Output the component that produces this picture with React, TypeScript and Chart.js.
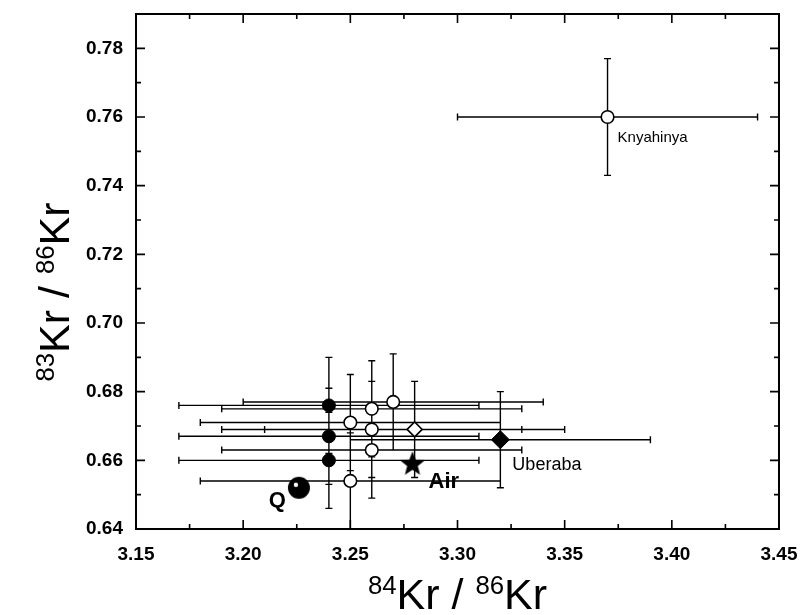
import React, { useEffect, useRef } from 'react';
import { Chart, registerables } from 'chart.js';

Chart.register(...registerables);

// ---- axis ticks ----
const xTickValues = [3.15, 3.2, 3.25, 3.3, 3.35, 3.4, 3.45];
const yTickValues = [0.64, 0.66, 0.68, 0.7, 0.72, 0.74, 0.76, 0.78];
const xMin = 3.15, xMax = 3.45, yMin = 0.64, yMax = 0.79;

// ---- data ----
// filled circles
const filledX = [3.24, 3.24, 3.24];
const filledY = [0.676, 0.667, 0.66];
const filledXErr = [0.07, 0.07, 0.07];
const filledYErr = [0.014, 0.014, 0.014];

// open circles (last one is Knyahinya)
const openX = [3.25, 3.25, 3.26, 3.26, 3.26, 3.27, 3.37];
const openY = [0.671, 0.654, 0.675, 0.669, 0.663, 0.677, 0.76];
const openXErr = [0.07, 0.07, 0.07, 0.07, 0.07, 0.07, 0.07];
const openYErr = [0.014, 0.014, 0.014, 0.014, 0.014, 0.014, 0.017];

// open diamond
const openDiamondX = [3.28];
const openDiamondY = [0.669];
const openDiamondXErr = [0.07];
const openDiamondYErr = [0.014];

// filled diamond (Uberaba)
const uberabaX = [3.32];
const uberabaY = [0.666];
const uberabaXErr = [0.07];
const uberabaYErr = [0.014];

// Air (star)
const airX = [3.279];
const airY = [0.659];

// Q
const qX = [3.226];
const qY = [0.652];

// point labels
const labelTexts = ['Knyahinya', 'Uberaba', 'Air', 'Q'];
const labelAnchorX = [3.37, 3.32, 3.279, 3.226];
const labelAnchorY = [0.76, 0.666, 0.659, 0.652];

const xTitleParts: [string, boolean][] = [['84', true], ['Kr / ', false], ['86', true], ['Kr', false]];
const yTitleParts: [string, boolean][] = [['83', true], ['Kr / ', false], ['86', true], ['Kr', false]];

function pts(xs: number[], ys: number[], xe?: number[], ye?: number[]) {
  return xs.map((x, i) => ({ x, y: ys[i], xErr: xe ? xe[i] : 0, yErr: ye ? ye[i] : 0 }));
}

function makeStar(): HTMLCanvasElement {
  const c = document.createElement('canvas');
  c.width = 28; c.height = 28;
  const g = c.getContext('2d')!;
  const cx = 14, cy = 14.5, R = 13, r = 5.6;
  g.beginPath();
  for (let i = 0; i < 10; i++) {
    const a = -Math.PI / 2 + (i * Math.PI) / 5;
    const rad = i % 2 === 0 ? R : r;
    const px = cx + rad * Math.cos(a), py = cy + rad * Math.sin(a);
    if (i === 0) g.moveTo(px, py); else g.lineTo(px, py);
  }
  g.closePath();
  g.fillStyle = '#000';
  g.fill();
  return c;
}

function makeQ(): HTMLCanvasElement {
  const c = document.createElement('canvas');
  c.width = 24; c.height = 24;
  const g = c.getContext('2d')!;
  g.beginPath();
  g.arc(12, 12, 11, 0, Math.PI * 2);
  g.fillStyle = '#000';
  g.fill();
  g.beginPath();
  g.arc(9, 9, 2.2, 0, Math.PI * 2);
  g.fillStyle = '#fff';
  g.fill();
  return c;
}

function drawParts(ctx: CanvasRenderingContext2D, parts: [string, boolean][], size: number, cx: number, baseY: number) {
  const supSize = size * 0.6;
  const big = `${size}px "Liberation Sans", Arial, sans-serif`;
  const small = `${supSize}px "Liberation Sans", Arial, sans-serif`;
  let total = 0;
  const widths = parts.map(([t, sup]) => {
    ctx.font = sup ? small : big;
    const w = ctx.measureText(t).width;
    total += w;
    return w;
  });
  let x = cx - total / 2;
  ctx.textAlign = 'left';
  ctx.textBaseline = 'alphabetic';
  parts.forEach(([t, sup], i) => {
    ctx.font = sup ? small : big;
    ctx.fillText(t, x, sup ? baseY - size * 0.36 : baseY);
    x += widths[i];
  });
}

const framePlugin = {
  id: 'frameTicks',
  beforeDatasetsDraw(chart: any) {
    const { ctx, chartArea: a, scales } = chart;
    const xs = scales.x, ys = scales.y;
    ctx.save();
    ctx.strokeStyle = '#000';
    ctx.lineWidth = 2;
    ctx.strokeRect(a.left, a.top, a.right - a.left, a.bottom - a.top);
    ctx.lineWidth = 1.6;
    const major = 9, minor = 5;
    ctx.beginPath();
    xTickValues.forEach((v, i) => {
      const px = xs.getPixelForValue(v);
      ctx.moveTo(px, a.bottom); ctx.lineTo(px, a.bottom - major);
      ctx.moveTo(px, a.top); ctx.lineTo(px, a.top + major);
      if (i < xTickValues.length - 1) {
        const m = xs.getPixelForValue((v + xTickValues[i + 1]) / 2);
        ctx.moveTo(m, a.bottom); ctx.lineTo(m, a.bottom - minor);
        ctx.moveTo(m, a.top); ctx.lineTo(m, a.top + minor);
      }
    });
    yTickValues.forEach((v, i) => {
      const py = ys.getPixelForValue(v);
      ctx.moveTo(a.left, py); ctx.lineTo(a.left + major, py);
      ctx.moveTo(a.right, py); ctx.lineTo(a.right - major, py);
      if (i < yTickValues.length - 1) {
        const m = ys.getPixelForValue((v + yTickValues[i + 1]) / 2);
        ctx.moveTo(a.left, m); ctx.lineTo(a.left + minor, m);
        ctx.moveTo(a.right, m); ctx.lineTo(a.right - minor, m);
      }
    });
    ctx.stroke();

    // error bars
    ctx.lineWidth = 1.4;
    const cap = 3.5;
    ctx.beginPath();
    chart.data.datasets.forEach((ds: any) => {
      ds.data.forEach((p: any) => {
        const px = xs.getPixelForValue(p.x), py = ys.getPixelForValue(p.y);
        if (p.xErr) {
          const x0 = xs.getPixelForValue(p.x - p.xErr), x1 = xs.getPixelForValue(p.x + p.xErr);
          ctx.moveTo(x0, py); ctx.lineTo(x1, py);
          ctx.moveTo(x0, py - cap); ctx.lineTo(x0, py + cap);
          ctx.moveTo(x1, py - cap); ctx.lineTo(x1, py + cap);
        }
        if (p.yErr) {
          const y0 = ys.getPixelForValue(p.y - p.yErr), y1 = ys.getPixelForValue(p.y + p.yErr);
          ctx.moveTo(px, y0); ctx.lineTo(px, y1);
          ctx.moveTo(px - cap, y0); ctx.lineTo(px + cap, y0);
          ctx.moveTo(px - cap, y1); ctx.lineTo(px + cap, y1);
        }
      });
    });
    ctx.stroke();
    ctx.restore();
  },
  afterDraw(chart: any) {
    const { ctx, chartArea: a, scales } = chart;
    const xs = scales.x, ys = scales.y;
    ctx.save();
    ctx.fillStyle = '#000';
    // axis titles
    drawParts(ctx, xTitleParts, 43, (a.left + a.right) / 2, 609);
    ctx.save();
    ctx.translate(69, 292);
    ctx.rotate(-Math.PI / 2);
    drawParts(ctx, yTitleParts, 43, 0, 0);
    ctx.restore();

    // point labels
    const styles = [
      { font: '15px "Liberation Sans", Arial, sans-serif', dx: 10, dy: 25, align: 'left' },
      { font: '18px "Liberation Sans", Arial, sans-serif', dx: 12, dy: 30, align: 'left' },
      { font: 'bold 22px "Liberation Sans", Arial, sans-serif', dx: 16, dy: 24, align: 'left' },
      { font: 'bold 22px "Liberation Sans", Arial, sans-serif', dx: -13, dy: 19, align: 'right' },
    ];
    labelTexts.forEach((t, i) => {
      const s = styles[i];
      ctx.font = s.font;
      ctx.textAlign = s.align as CanvasTextAlign;
      ctx.textBaseline = 'alphabetic';
      ctx.fillText(t, xs.getPixelForValue(labelAnchorX[i]) + s.dx, ys.getPixelForValue(labelAnchorY[i]) + s.dy);
    });
    ctx.restore();
  },
};

function zeroPad(s: any) {
  s.paddingTop = 0; s.paddingBottom = 0; s.paddingLeft = 0; s.paddingRight = 0;
}

export default function App() {
  const ref = useRef<HTMLCanvasElement | null>(null);
  useEffect(() => {
    if (!ref.current) return;
    const star = makeStar();
    const qImg = makeQ();
    const chart = new Chart(ref.current, {
      type: 'scatter',
      data: {
        datasets: [
          {
            data: pts(filledX, filledY, filledXErr, filledYErr),
            pointStyle: 'circle', pointRadius: 6.5, pointBackgroundColor: '#000', pointBorderColor: '#000', pointBorderWidth: 1,
          },
          {
            data: pts(openX, openY, openXErr, openYErr),
            pointStyle: 'circle', pointRadius: 6.3, pointBackgroundColor: '#fff', pointBorderColor: '#000', pointBorderWidth: 1.6,
          },
          {
            data: pts(openDiamondX, openDiamondY, openDiamondXErr, openDiamondYErr),
            pointStyle: 'rectRot', pointRadius: 7.5, pointBackgroundColor: '#fff', pointBorderColor: '#000', pointBorderWidth: 1.6,
          },
          {
            data: pts(uberabaX, uberabaY, uberabaXErr, uberabaYErr),
            pointStyle: 'rectRot', pointRadius: 9, pointBackgroundColor: '#000', pointBorderColor: '#000', pointBorderWidth: 1,
          },
          {
            data: pts(airX, airY),
            pointStyle: star as any, pointRadius: 13,
          },
          {
            data: pts(qX, qY),
            pointStyle: qImg as any, pointRadius: 11,
          },
        ] as any,
      },
      options: {
        animation: false,
        responsive: false,
        devicePixelRatio: 1,
        layout: { padding: { top: 10, right: 23, left: 0, bottom: 0 } },
        plugins: { legend: { display: false }, tooltip: { enabled: false } },
        events: [],
        scales: {
          x: {
            type: 'linear', min: xMin, max: xMax,
            grid: { display: false, drawTicks: false },
            border: { display: false },
            afterBuildTicks: (s: any) => { s.ticks = xTickValues.map((v) => ({ value: v })); },
            afterFit: (s: any) => { s.height = 86; zeroPad(s); },
            ticks: {
              color: '#000', padding: 14, maxRotation: 0, autoSkip: false,
              font: { family: '"Liberation Sans", Arial, sans-serif', size: 19, weight: 'bold' },
              callback: (v: any) => Number(v).toFixed(2),
            },
          },
          y: {
            type: 'linear', min: yMin, max: yMax,
            grid: { display: false, drawTicks: false },
            border: { display: false },
            afterBuildTicks: (s: any) => { s.ticks = yTickValues.map((v) => ({ value: v })); },
            afterFit: (s: any) => { s.width = 136; zeroPad(s); },
            ticks: {
              color: '#000', padding: 13, autoSkip: false,
              font: { family: '"Liberation Sans", Arial, sans-serif', size: 19, weight: 'bold' },
              callback: (v: any) => Number(v).toFixed(2),
            },
          },
        },
      } as any,
      plugins: [framePlugin],
    });
    return () => chart.destroy();
  }, []);
  return (
    <div style={{ position: 'absolute', left: 0, top: 0, width: 802, height: 615, background: '#fff' }}>
      <canvas ref={ref} width={802} height={615} style={{ display: 'block' }} />
    </div>
  );
}
